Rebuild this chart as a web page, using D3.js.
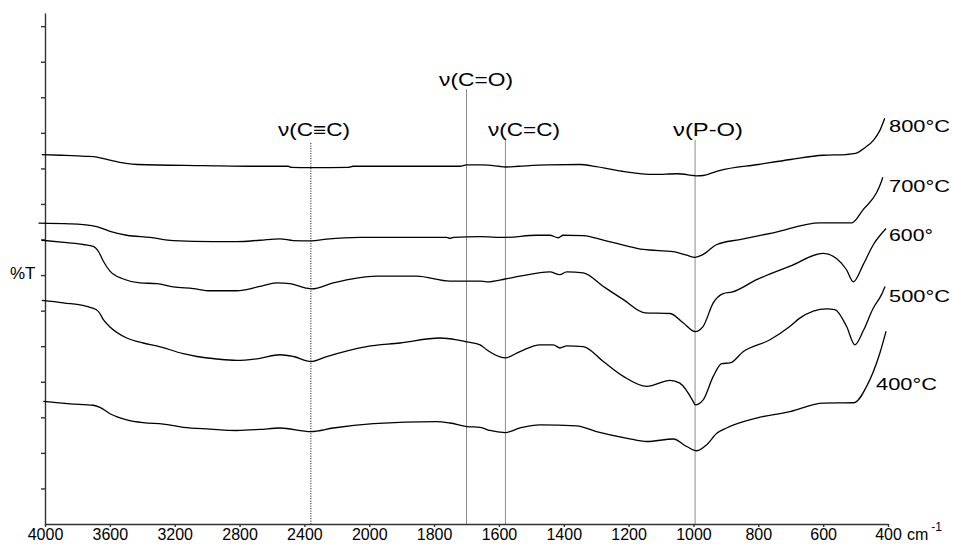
<!DOCTYPE html>
<html>
<head>
<meta charset="utf-8">
<script src="https://cdn.jsdelivr.net/npm/d3@7"></script>
<style>
  html, body { margin: 0; padding: 0; background: #fff; }
  svg { display: block; font-family: "Liberation Sans", Arial, Helvetica, sans-serif; }
</style>
</head>
<body>
<svg id="chart" width="953" height="544"></svg>
<script>
// ---------------- DATA ----------------
// x-axis tick labels (wavenumber, cm-1); scale changes at 2000 cm-1
const xTicks = [4000, 3600, 3200, 2800, 2400, 2000, 1800, 1600, 1400, 1200, 1000, 800, 600, 400];
// y-axis tick values (arbitrary %T units, no labels)
const yTicks = [10, 20, 30, 40, 50, 60, 70, 80, 90, 100, 110, 120, 130, 140];

// spectra: [wavenumber, %T (arbitrary, offset)]
const t800 = [[4020,103.9],[3900,103.7],[3750,103.4],[3680,103.2],[3600,102.3],[3500,101.4],[3430,101.1],[3020,100.8],[2670,100.6],[2500,100.6],[2480,100.3],[2360,100.2],[2130,100.3],[2100,100.6],[1720,100.6],[1700,101.0],[1650,101.0],[1600,100.6],[1580,100.4],[1540,100.6],[1450,101.0],[1350,101.1],[1300,100.5],[1220,99.2],[1120,98.3],[1050,98.5],[1000,98.0],[990,97.9],[970,98.0],[920,99.4],[800,101.1],[700,102.5],[600,103.7],[530,103.9],[500,104.2],[470,105.9],[445,107.9],[425,110.7],[410,114.1]];
const t700 = [[4040,84.6],[3846,84.4],[3712,83.9],[3681,83.6],[3599,82.3],[3496,81.2],[3352,80.6],[3209,79.7],[2962,79.4],[2818,79.4],[2674,79.8],[2551,80.2],[2468,79.7],[2359,79.6],[2262,80.1],[2057,80.6],[1761,80.6],[1751,80.3],[1740,80.6],[1658,80.8],[1581,80.6],[1484,81.2],[1443,81.2],[1417,80.5],[1402,81.2],[1340,81.1],[1278,79.8],[1216,78.4],[1155,77.2],[1062,76.6],[1021,75.6],[995,75.0],[970,75.8],[928,78.6],[857,80.0],[754,81.9],[610,84.7],[512,84.7],[476,88.5],[435,93.2],[420,96.4],[416,97.5]];
const t600 = [[4020,79.8],[3866,79.1],[3764,78.6],[3702,78.1],[3671,76.7],[3640,73.9],[3599,71.1],[3517,68.9],[3414,67.8],[3311,67.6],[3209,66.7],[3085,66.2],[2982,65.6],[2818,65.6],[2674,66.8],[2571,67.8],[2489,67.6],[2396,66.4],[2355,66.1],[2222,67.8],[1977,69.7],[1854,69.7],[1751,68.3],[1658,68.3],[1638,68.1],[1581,68.9],[1535,69.7],[1443,70.9],[1412,70.1],[1391,70.9],[1340,70.6],[1278,66.8],[1216,63.1],[1150,59.4],[1072,59.2],[1031,56.5],[995,54.1],[970,55.6],[939,62.2],[908,64.8],[882,65.2],[805,68.7],[702,72.5],[600,76.1],[558,74.6],[528,71.5],[507,68.1],[476,73.0],[445,78.6],[412,82.5],[406,83.1]];
const t500 = [[4020,62.9],[3887,62.2],[3712,60.8],[3671,59.8],[3640,57.5],[3599,55.4],[3496,52.3],[3394,50.9],[3311,50.1],[3147,47.9],[3064,47.1],[2941,46.4],[2818,46.0],[2674,46.6],[2551,47.6],[2468,47.1],[2359,45.7],[2262,47.1],[2016,49.9],[1905,50.9],[1782,52.3],[1730,51.8],[1699,51.2],[1658,50.4],[1638,49.0],[1581,46.7],[1535,48.5],[1473,50.4],[1432,50.4],[1412,49.5],[1391,50.1],[1340,49.9],[1278,45.7],[1216,41.5],[1144,38.7],[1072,40.4],[1042,39.6],[1001,34.5],[995,33.5],[970,34.9],[939,41.5],[913,45.1],[887,45.3],[846,48.5],[764,51.8],[702,55.6],[672,57.9],[589,60.5],[564,60.3],[528,55.6],[502,50.4],[476,54.4],[446,60.6],[420,64.5],[409,66.8]];
const t400 = [[4010,34.5],[3846,33.8],[3702,33.4],[3661,32.8],[3599,31.0],[3496,29.3],[3394,28.5],[3270,28.1],[3147,27.2],[2982,26.7],[2818,26.3],[2674,26.6],[2551,27.0],[2359,26.0],[2222,27.0],[1987,28.2],[1792,28.8],[1751,28.4],[1699,27.4],[1658,27.2],[1628,26.3],[1581,25.7],[1535,27.0],[1473,27.9],[1360,27.6],[1299,26.0],[1204,24.1],[1144,23.2],[1062,23.9],[1021,21.8],[990,20.6],[959,22.3],[928,25.5],[898,27.0],[805,29.8],[702,31.6],[600,34.0],[505,34.1],[466,38.7],[425,48.1],[406,54.2]];

const seriesNames = ["800°C", "700°C", "600°", "500°C", "400°C"];
const seriesData = [t800, t700, t600, t500, t400];

// band assignments
const bandLabels = ["ν(C≡C)", "ν(C=O)", "ν(C=C)", "ν(P-O)"];
const bandWn = [2360, 1700, 1580, 995];
const bandTop = [107.1, 122.3, 108.0, 108.0];

// ---------------- LAYOUT / STYLE ----------------
const X0 = 45, X1 = 888, Y0 = 524, Y1 = 13;
const unit = (X1 - X0) / 13;
const bandStyle = [
  {dash: "1,1.5", color: "#000", labelX: 278, labelY: 135.5, len: 72},
  {dash: null, color: "#8c8c8c", labelX: 439, labelY: 86, len: 74},
  {dash: null, color: "#8c8c8c", labelX: 488, labelY: 135.5, len: 72},
  {dash: null, color: "#8c8c8c", labelX: 673, labelY: 135.5, len: 70}
];
const nameStyle = [
  {x: 889, y: 132}, {x: 889, y: 192}, {x: 889, y: 241}, {x: 889, y: 302}, {x: 876, y: 390}
];

const svg = d3.select("#chart");

const x = d3.scaleLinear().domain([4000, 2000, 400]).range([X0, X0 + 5 * unit, X1]);
const y = d3.scaleLinear().domain([0, (Y0 - Y1) / 3.556]).range([Y0, Y1]);

// band lines
bandWn.forEach((w, i) => {
  const st = bandStyle[i];
  const ln = svg.append("line")
    .attr("x1", x(w)).attr("x2", x(w))
    .attr("y1", y(bandTop[i])).attr("y2", Y0)
    .attr("stroke", st.color).attr("stroke-width", 1);
  if (st.dash) ln.attr("stroke-dasharray", st.dash);
  svg.append("text")
    .attr("x", st.labelX).attr("y", st.labelY)
    .attr("font-size", 18)
    .attr("textLength", st.len).attr("lengthAdjust", "spacingAndGlyphs")
    .attr("fill", "#000")
    .text(bandLabels[i]);
});

// axes
const xAxis = svg.append("g")
  .attr("transform", `translate(0,${Y0})`)
  .call(d3.axisBottom(x).tickValues(xTicks).tickSize(3).tickSizeOuter(0).tickPadding(2).tickFormat(d3.format("d")));
xAxis.selectAll("text").attr("font-size", 16).attr("font-family", "Liberation Sans, Arial, sans-serif").attr("fill", "#000");
xAxis.selectAll("path, line").attr("stroke", "#333").attr("stroke-width", 1.4);

const yAxis = svg.append("g")
  .attr("transform", `translate(${X0},0)`)
  .call(d3.axisLeft(y).tickValues(yTicks).tickSize(4).tickSizeOuter(0).tickFormat(""));
yAxis.selectAll("path, line").attr("stroke", "#333").attr("stroke-width", 1.4);

// curves
const line = d3.line()
  .x(d => x(d[0]))
  .y(d => y(d[1]))
  .curve(d3.curveMonotoneX);

seriesData.forEach((s, i) => {
  svg.append("path")
    .datum(s)
    .attr("d", line)
    .attr("fill", "none")
    .attr("stroke", "#000")
    .attr("stroke-width", 1.3)
    .attr("stroke-linejoin", "round");
  svg.append("text")
    .attr("x", nameStyle[i].x).attr("y", nameStyle[i].y)
    .attr("font-size", 17)
    .attr("textLength", seriesNames[i].endsWith("C") ? 61 : 44).attr("lengthAdjust", "spacingAndGlyphs")
    .text(seriesNames[i]);
});

// axis titles
svg.append("text").attr("x", 10).attr("y", 279).attr("font-size", 17).text("%T");
const cm = svg.append("text").attr("x", 907).attr("y", 540).attr("font-size", 16);
cm.append("tspan").text("cm");
cm.append("tspan").attr("dx", 3).attr("dy", -9).attr("font-size", 12).text("-1");
</script>
</body>
</html>
